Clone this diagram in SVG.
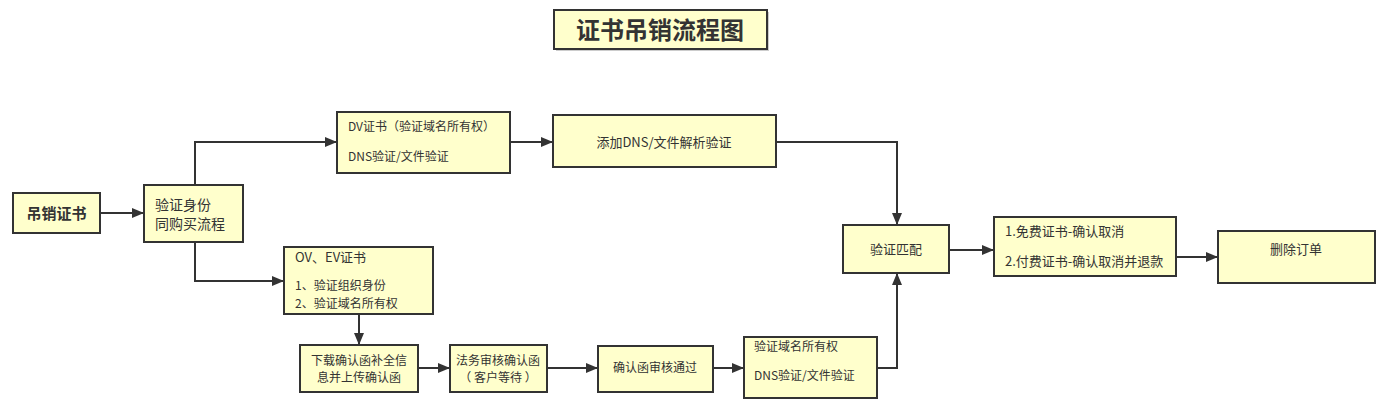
<svg xmlns="http://www.w3.org/2000/svg" width="1390" height="404" viewBox="0 0 1390 404">
<style>
.box{fill:#ffffcc;stroke:#333;stroke-width:2}
.sh{fill:#999;opacity:0.5}
.t{font-family:"Noto Sans CJK SC","Liberation Sans",sans-serif;font-size:12px;fill:#333}
.m{font-size:13px}
.c{text-anchor:middle}
.b{font-weight:bold}
.ln{fill:none;stroke:#333;stroke-width:2}
</style>
<defs>
<marker id="ar" markerWidth="12" markerHeight="10" refX="11" refY="5" orient="auto" markerUnits="userSpaceOnUse">
<path d="M0,0 L12,5 L0,10 Z" fill="#333"/>
</marker>
</defs>
<rect width="1390" height="404" fill="#fff"/>
<g id="title">
<rect class="sh" x="556" y="12" width="213" height="39"/>
<rect class="box" x="554" y="10" width="213" height="39"/>
<text class="t c b" x="660" y="39" style="font-size:24px">证书吊销流程图</text>
</g>
<g id="connectors">
<path class="ln" d="M100,213 H143" marker-end="url(#ar)"/>
<path class="ln" d="M195,185 V142 H336" marker-end="url(#ar)"/>
<path class="ln" d="M195,242 V281 H283" marker-end="url(#ar)"/>
<path class="ln" d="M510,142 H552" marker-end="url(#ar)"/>
<path class="ln" d="M776,142 H897 V224" marker-end="url(#ar)"/>
<path class="ln" d="M359,314 V344" marker-end="url(#ar)"/>
<path class="ln" d="M418,368 H449" marker-end="url(#ar)"/>
<path class="ln" d="M547,368 H597" marker-end="url(#ar)"/>
<path class="ln" d="M713,368 H743" marker-end="url(#ar)"/>
<path class="ln" d="M877,368 H897 V274" marker-end="url(#ar)"/>
<path class="ln" d="M949,250 H993" marker-end="url(#ar)"/>
<path class="ln" d="M1176,257 H1217" marker-end="url(#ar)"/>
</g>
<g id="n_revoke">
<rect class="box" x="13" y="193" width="87" height="40"/>
<text class="t c b" x="56.5" y="219" style="font-size:15px">吊销证书</text>
</g>
<g id="n_verify">
<rect class="box" x="144" y="185" width="99" height="57"/>
<text class="t" x="155" y="210" style="font-size:14px">验证身份</text>
<text class="t" x="155" y="229" style="font-size:14px">同购买流程</text>
</g>
<g id="n_dv">
<rect class="box" x="337" y="112" width="173" height="61"/>
<text class="t" x="348" y="131">DV证书（验证域名所有权）</text>
<text class="t" x="348" y="161">DNS验证/文件验证</text>
</g>
<g id="n_dns">
<rect class="box" x="553" y="115" width="223" height="52"/>
<text class="t m c" x="664" y="147">添加DNS/文件解析验证</text>
</g>
<g id="n_ov">
<rect class="box" x="284" y="247" width="149" height="67"/>
<text class="t m" x="295" y="262">OV、EV证书</text>
<text class="t" x="295" y="290">1、验证组织身份</text>
<text class="t" x="295" y="308">2、验证域名所有权</text>
</g>
<g id="n_download">
<rect class="box" x="300" y="345" width="118" height="47"/>
<text class="t c" x="359" y="365">下载确认函补全信</text>
<text class="t c" x="359" y="382">息并上传确认函</text>
</g>
<g id="n_legal">
<rect class="box" x="450" y="345" width="97" height="47"/>
<text class="t c" x="498" y="365">法务审核确认函</text>
<text class="t c" x="498" y="382">（ 客户等待 ）</text>
</g>
<g id="n_pass">
<rect class="box" x="598" y="346" width="115" height="46"/>
<text class="t c" x="655" y="372">确认函审核通过</text>
</g>
<g id="n_domain">
<rect class="box" x="744" y="337" width="133" height="61"/>
<text class="t" x="754" y="351">验证域名所有权</text>
<text class="t" x="754" y="380">DNS验证/文件验证</text>
</g>
<g id="n_match">
<rect class="box" x="843" y="225" width="106" height="48"/>
<text class="t m c" x="896" y="254">验证匹配</text>
</g>
<g id="n_cancel">
<rect class="box" x="994" y="217" width="182" height="59"/>
<text class="t m" x="1005" y="236">1.免费证书-确认取消</text>
<text class="t m" x="1005" y="266">2.付费证书-确认取消并退款</text>
</g>
<g id="n_delete">
<rect class="box" x="1218" y="231" width="157" height="52"/>
<text class="t m c" x="1296" y="254">删除订单</text>
</g>
</svg>
